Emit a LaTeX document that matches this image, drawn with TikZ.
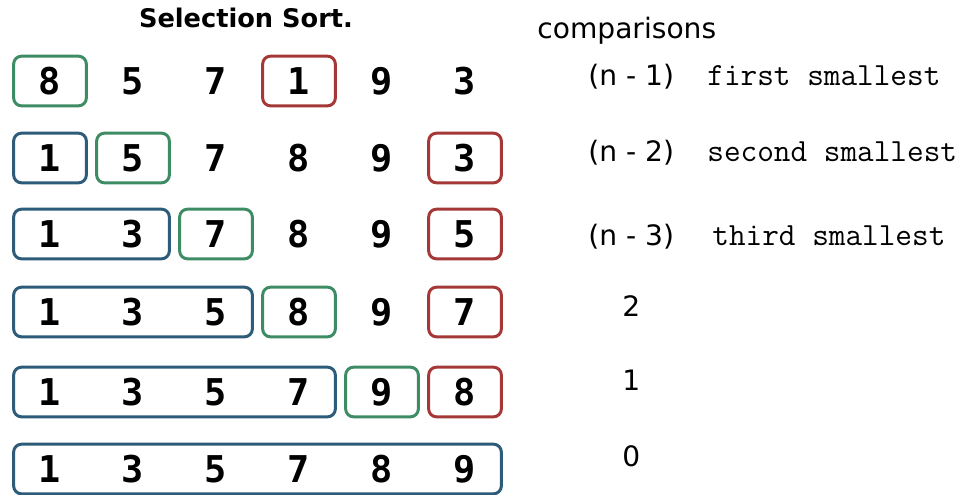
\documentclass[tikz,border=0pt]{standalone}
\usepackage{fontspec}
\setmainfont{DejaVu Sans}
\newfontfamily\digitfont{DejaVu Sans Mono}
\usetikzlibrary{fit,positioning}
\definecolor{pickgreen}{RGB}{62,140,100}
\definecolor{minred}{RGB}{165,55,55}
\definecolor{sortblue}{RGB}{45,92,122}

\begin{document}
\begin{tikzpicture}[x=0.02cm, y=-0.02cm,
  num/.style={minimum width=1.44cm, minimum height=0.98cm, inner sep=0pt, font=\digitfont\bfseries\fontsize{21}{21}\selectfont},
  frame/.style={draw, line width=1.7pt, rounded corners=4.5pt, inner sep=0pt},
  done/.style={frame, draw=sortblue}, cur/.style={frame, draw=pickgreen}, low/.style={frame, draw=minred},
  cnt/.style={font=\fontsize{16}{16}\selectfont, anchor=base west, inner sep=0pt},
  note/.style={font=\ttfamily\fontsize{18.4}{18}\selectfont, anchor=base west, inner sep=0pt}]
  \useasboundingbox (0,0) rectangle (977,494);
  \node[font=\bfseries\fontsize{14.6}{14}\selectfont] (title) at (246,18) {Selection Sort.};
  % one row of digits per pass
  \foreach \r/\y/\vals in {1/81/{8,5,7,1,9,3}, 2/158/{1,5,7,8,9,3}, 3/234/{1,3,7,8,9,5},
                           4/312/{1,3,5,8,9,7}, 5/392/{1,3,5,7,9,8}, 6/469/{1,3,5,7,8,9}}
    \foreach \v [count=\c] in \vals
      \node[num] (d\r\c) at ({50+83*(\c-1)},\y) {\v};
  % sorted part, current position, smallest found
  \node[cur, fit=(d11)] (g1) {};
  \node[low, fit=(d14)] (m1) {};
  \node[done, fit=(d21)] (s2) {};
  \node[cur, fit=(d22)] (g2) {};
  \node[low, fit=(d26)] (m2) {};
  \node[done, fit=(d31)(d32)] (s3) {};
  \node[cur, fit=(d33)] (g3) {};
  \node[low, fit=(d36)] (m3) {};
  \node[done, fit=(d41)(d43)] (s4) {};
  \node[cur, fit=(d44)] (g4) {};
  \node[low, fit=(d46)] (m4) {};
  \node[done, fit=(d51)(d54)] (s5) {};
  \node[cur, fit=(d55)] (g5) {};
  \node[low, fit=(d56)] (m5) {};
  \node[done, fit=(d61)(d66)] (s6) {};
  % comparison counts
  \node[cnt] (cmp) at (537,38) {comparisons};
  \node[cnt] (c1) at (588,85) {(n - 1)};
  \node[note] (t1) at (707,85) {first smallest};
  \node[cnt] (c2) at (588,161) {(n - 2)};
  \node[note] (t2) at (707,161) {second smallest};
  \node[cnt] (c3) at (588,245) {(n - 3)};
  \node[note] (t3) at (712,245) {third smallest};
  \node[cnt] (c4) at (622,316) {2};
  \node[cnt] (c5) at (622,390) {1};
  \node[cnt] (c6) at (622,466) {0};
\end{tikzpicture}
\end{document}
